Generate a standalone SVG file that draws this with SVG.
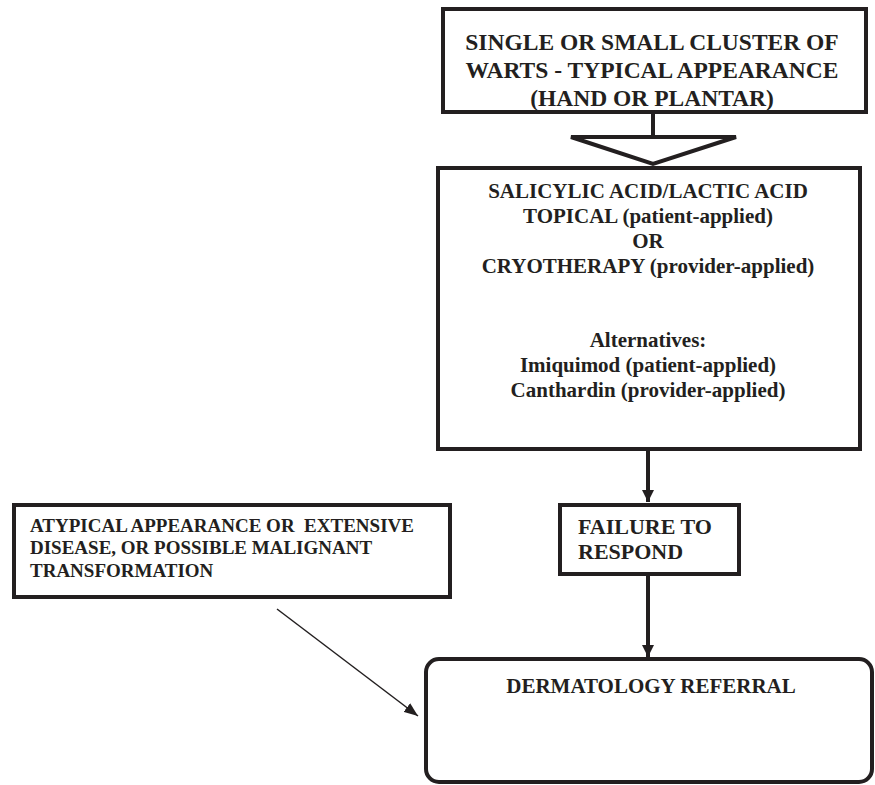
<svg xmlns="http://www.w3.org/2000/svg" width="875" height="785" viewBox="0 0 875 785">
<defs>
<style>
.box{fill:#fff;stroke:#231f20;stroke-width:4}
.t{font-family:"Liberation Serif","Times New Roman",serif;font-weight:bold;fill:#231f20}
.c{text-anchor:middle}
.conn{stroke:#231f20;fill:none}
</style>
<marker id="ah" viewBox="0 0 12 12" refX="12" refY="6" markerWidth="12" markerHeight="12" markerUnits="userSpaceOnUse" orient="auto">
<path d="M0,0 L12,6 L0,12 z" fill="#231f20"/>
</marker>
<marker id="ahs" viewBox="0 0 14 11" refX="14" refY="5.5" markerWidth="14" markerHeight="11" markerUnits="userSpaceOnUse" orient="auto">
<path d="M0,0 L14,5.5 L0,11 z" fill="#231f20"/>
</marker>
</defs>
<rect width="875" height="785" fill="#fff"/>
<g id="connectors">
<line class="conn" x1="653" y1="112" x2="653" y2="137" stroke-width="4"/>
<polygon points="571,137 736,137 653,164" fill="#fff" stroke="#231f20" stroke-width="4"/>
<line class="conn" x1="648" y1="451" x2="648" y2="502" stroke-width="4" marker-end="url(#ah)"/>
<line class="conn" x1="648" y1="576" x2="648" y2="657" stroke-width="4" marker-end="url(#ah)"/>
<line class="conn" x1="277" y1="609" x2="418" y2="716" stroke-width="1.5" marker-end="url(#ahs)"/>
</g>
<g id="node-warts">
<rect class="box" x="443" y="9" width="423" height="103"/>
<text class="t c" x="652" y="50" font-size="23.5">SINGLE OR SMALL CLUSTER OF</text>
<text class="t c" x="652" y="78" font-size="23.5">WARTS - TYPICAL APPEARANCE</text>
<text class="t c" x="652" y="106" font-size="23.5">(HAND OR PLANTAR)</text>
</g>
<g id="node-treatment">
<rect class="box" x="438" y="168" width="422" height="281"/>
<text class="t c" x="648" y="198" font-size="21">SALICYLIC ACID/LACTIC ACID</text>
<text class="t c" x="648" y="223" font-size="21">TOPICAL (patient-applied)</text>
<text class="t c" x="648" y="248" font-size="21">OR</text>
<text class="t c" x="648" y="273" font-size="21">CRYOTHERAPY (provider-applied)</text>
<text class="t c" x="648" y="347" font-size="21">Alternatives:</text>
<text class="t c" x="648" y="372" font-size="21">Imiquimod (patient-applied)</text>
<text class="t c" x="648" y="397" font-size="21">Canthardin (provider-applied)</text>
</g>
<g id="node-failure">
<rect class="box" x="560" y="505" width="179" height="69" stroke-width="5"/>
<text class="t" x="578" y="534" font-size="22">FAILURE TO</text>
<text class="t" x="578" y="559" font-size="22">RESPOND</text>
</g>
<g id="node-atypical">
<rect class="box" x="14" y="505" width="436" height="92"/>
<text class="t" x="30" y="532" font-size="19" xml:space="preserve">ATYPICAL APPEARANCE OR  EXTENSIVE</text>
<text class="t" x="30" y="554" font-size="19">DISEASE, OR POSSIBLE MALIGNANT</text>
<text class="t" x="30" y="577" font-size="19">TRANSFORMATION</text>
</g>
<g id="node-referral">
<rect class="box" x="426" y="659" width="446" height="123" rx="13" ry="13"/>
<text class="t c" x="651" y="693" font-size="21">DERMATOLOGY REFERRAL</text>
</g>
</svg>
